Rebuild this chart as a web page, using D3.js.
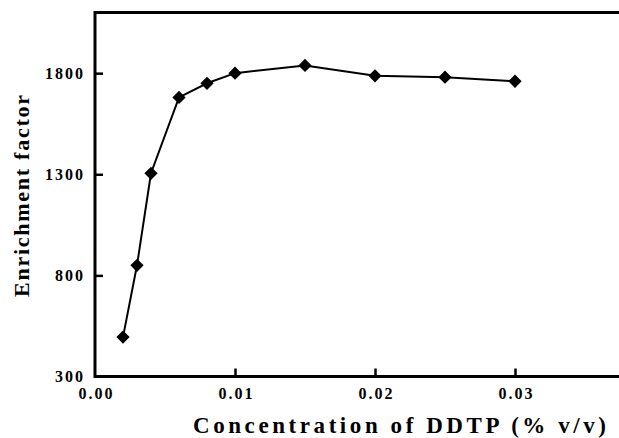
<!DOCTYPE html>
<html>
<head>
<meta charset="utf-8">
<script src="https://cdn.jsdelivr.net/npm/d3@7"></script>
<style>
  body { margin: 0; background: #fff; }
</style>
</head>
<body>
<div class="chart"></div>
<script>
var svgWidth = 619;
var svgHeight = 438;

var margin = { top: 12.5, right: 0, bottom: 61.5, left: 95 };

var width = svgWidth - margin.left - margin.right;
var height = svgHeight - margin.top - margin.bottom;

// data
var concentration = [0.002, 0.003, 0.004, 0.006, 0.008, 0.010, 0.015, 0.020, 0.025, 0.030];
var enrichment = [495, 850, 1305, 1680, 1750, 1800, 1838, 1787, 1780, 1760];
var xTicks = [0, 0.01, 0.02, 0.03];
var yTicks = [300, 800, 1300, 1800];

var data = concentration.map((c, i) => ({ x: c, y: enrichment[i] }));

var svg = d3.select(".chart")
  .append("svg")
  .attr("width", svgWidth)
  .attr("height", svgHeight);

var chartGroup = svg.append("g")
  .attr("transform", `translate(${margin.left}, ${margin.top})`);

// 0.01 spans 140px, axis runs off the right edge
var xScale = d3.scaleLinear()
  .domain([0, width / 14000])
  .range([0, width]);

var yScale = d3.scaleLinear()
  .domain([300, 2100])
  .range([height, 0]);

// x axis, ticks pointing inward
var xAxis = chartGroup.append("g")
  .attr("transform", `translate(0, ${height})`)
  .call(d3.axisBottom(xScale)
    .tickValues(xTicks)
    .tickSize(-8)
    .tickFormat(d3.format(".2f")));

// y axis, ticks pointing inward
var yAxis = chartGroup.append("g")
  .call(d3.axisLeft(yScale)
    .tickValues(yTicks)
    .tickSize(-8)
    .tickFormat(d3.format("d")));

[xAxis, yAxis].forEach(function(ax) {
  ax.select(".domain").remove();
  ax.selectAll(".tick line").attr("stroke", "#000").attr("stroke-width", 2.5);
  ax.selectAll(".tick text")
    .attr("font-family", "Liberation Serif")
    .attr("font-weight", "bold")
    .attr("font-size", 16)
    .attr("letter-spacing", 2)
    .attr("fill", "#000");
});
xAxis.selectAll(".tick text").attr("y", 22).attr("dy", null).attr("dx", 1);
yAxis.selectAll(".tick text").attr("x", -10).attr("dy", "0.32em");

// hide the corner ticks like the original
xAxis.selectAll(".tick").filter(d => d === 0).select("line").remove();
yAxis.selectAll(".tick").filter(d => d === 300).select("line").remove();

// frame: left, top, bottom
chartGroup.append("path")
  .attr("d", `M${width + 5},0 H0 V${height} H${width + 5}`)
  .attr("fill", "none")
  .attr("stroke", "#000")
  .attr("stroke-width", 3);

// line
var line = d3.line()
  .x(d => xScale(d.x))
  .y(d => yScale(d.y));

chartGroup.append("path")
  .datum(data)
  .attr("d", line)
  .attr("fill", "none")
  .attr("stroke", "#000")
  .attr("stroke-width", 2);

// diamond markers
chartGroup.selectAll(".pt")
  .data(data)
  .enter()
  .append("path")
  .attr("class", "pt")
  .attr("d", d3.symbol(d3.symbolSquare, 88))
  .attr("transform", d => `translate(${xScale(d.x)}, ${yScale(d.y)}) rotate(45)`)
  .attr("fill", "#000");

// axis titles
svg.append("text")
  .attr("x", 193)
  .attr("y", 433)
  .attr("textLength", 413)
  .attr("lengthAdjust", "spacing")
  .attr("font-family", "Liberation Serif")
  .attr("font-weight", "bold")
  .attr("font-size", 23)
  .text("Concentration of DDTP (% v/v)");

svg.append("text")
  .attr("transform", "translate(29, 297) rotate(-90)")
  .attr("textLength", 202)
  .attr("lengthAdjust", "spacing")
  .attr("font-family", "Liberation Serif")
  .attr("font-weight", "bold")
  .attr("font-size", 22)
  .text("Enrichment factor");
</script>
</body>
</html>
